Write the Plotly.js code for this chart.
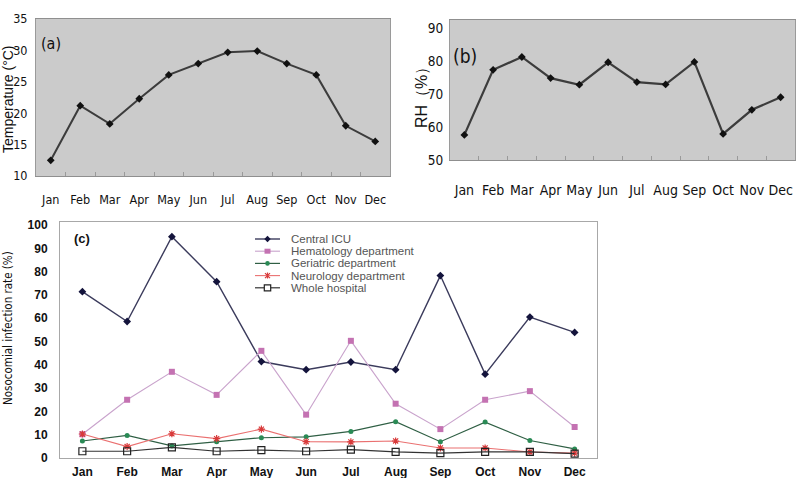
<!DOCTYPE html>
<html>
<head>
<meta charset="utf-8">
<script src="https://cdn.plot.ly/plotly-3.0.1.min.js"></script>
<style>html,body{margin:0;padding:0;background:#fff;}#chart{width:798px;height:478px;}</style>
</head>
<body>
<div id="chart"></div>
<script>
// ---------- data ----------
const months = ['Jan','Feb','Mar','Apr','May','Jun','Jul','Aug','Sep','Oct','Nov','Dec'];
const temperature = [12.5, 21.2, 18.3, 22.3, 26.1, 27.9, 29.7, 29.9, 27.9, 26.1, 18.0, 15.5];
const humidity = [57.6, 77.3, 81.2, 74.8, 72.8, 79.6, 73.6, 72.9, 79.7, 57.9, 65.2, 69.0];
const seriesNames = ['Central ICU','Hematology department','Geriatric department','Neurology department','Whole hospital'];
const centralICU = [71.4, 58.6, 95.0, 75.7, 41.4, 37.9, 41.2, 37.9, 78.3, 36.0, 60.5, 53.9];
const hematology = [10.2, 25.0, 37.0, 27.1, 46.0, 18.6, 50.3, 23.3, 12.4, 25.0, 28.7, 13.3];
const geriatric = [7.3, 9.7, 5.2, 7.0, 8.7, 9.1, 11.4, 15.6, 7.0, 15.4, 7.5, 3.9];
const neurology = [10.3, 4.9, 10.4, 8.3, 12.4, 7.0, 6.9, 7.3, 4.3, 4.3, 2.6, 2.1];
const wholeHospital = [2.9, 2.9, 4.6, 2.9, 3.4, 2.9, 3.6, 2.6, 2.1, 2.6, 2.6, 1.9];

// ---------- helpers ----------
const W = 798, H = 478;
const px = x => x / W;
const py = y => 1 - y / H;
const NARROW = '"Liberation Sans Narrow","Arial Narrow","DejaVu Sans Condensed",sans-serif';
const SANS = '"Liberation Sans",Arial,sans-serif';

const seriesValues = [centralICU, hematology, geriatric, neurology, wholeHospital];
const seriesStyle = [
  {line:'#3b3b5c', width:1.4, marker:'diamond', mcolor:'#14143c', msize:6},
  {line:'#c9a3cc', width:1.1, marker:'square', mcolor:'#c472b2', msize:6},
  {line:'#2f5f44', width:1.2, marker:'circle', mcolor:'#2a8a55', msize:5},
  {line:'#ea7070', width:1.1, marker:'asterisk', mcolor:'#d83a3a', msize:6},
  {line:'#333333', width:1.2, marker:'square-open', mcolor:'#222222', msize:7}
];

const traces = [];
traces.push({
  x: months, y: temperature, xaxis:'x', yaxis:'y', type:'scatter', mode:'lines+markers',
  line:{color:'#3c3c3c', width:2}, marker:{symbol:'diamond', size:6, color:'#111'},
  showlegend:false, hoverinfo:'skip'
});
traces.push({
  x: months, y: humidity, xaxis:'x2', yaxis:'y2', type:'scatter', mode:'lines+markers',
  line:{color:'#3c3c3c', width:2.2}, marker:{symbol:'diamond', size:6, color:'#111'},
  showlegend:false, hoverinfo:'skip'
});
seriesValues.forEach((vals, i) => {
  const s = seriesStyle[i];
  traces.push({
    x: months, y: vals, xaxis:'x3', yaxis:'y3', type:'scatter', mode:'lines+markers',
    name: seriesNames[i],
    line:{color:s.line, width:s.width},
    marker:{symbol:s.marker, size:s.msize, color:s.mcolor, line:{color:s.mcolor, width: (s.marker==='asterisk'||s.marker==='square-open')?1.2:0}},
    showlegend:false, hoverinfo:'skip'
  });
});

const shapes = [];
['x','x2'].forEach((ax, i) => {
  shapes.push({type:'rect', xref: ax + ' domain', yref: (i===0?'y':'y2') + ' domain',
    x0:0, x1:1, y0:0, y1:1, fillcolor:'#cbcbcb', line:{width:0}, layer:'below'});
});

const annotations = [];
function label(text, x, y, font, angle) {
  annotations.push({text:text, x:px(x), y:py(y), xref:'paper', yref:'paper', xanchor:'center', yanchor:'middle',
    showarrow:false, textangle: angle || 0, font:font});
}
label('(a)', 51, 43, {family:NARROW, size:16, color:'#111'});
label('(b)', 465, 56, {family:NARROW, size:19, color:'#111'});
label('(c)', 82, 238, {family:SANS, size:13, color:'#111', weight:'bold'});
label('Temperature (°C)', 8, 99, {family:SANS, size:14, color:'#111'}, -90);
label('RH（%）', 421, 94, {family:SANS, size:16, color:'#111'}, -90);
label('Nosocomial infection rate (%)', 8, 328, {family:NARROW, size:11.5, color:'#111'}, -90);

// custom legend for (c)
seriesNames.forEach((name, i) => {
  const s = seriesStyle[i];
  const yy = py(239 + i * 12.2);
  shapes.push({type:'line', xref:'paper', yref:'paper', x0:px(255), x1:px(280), y0:yy, y1:yy,
    line:{color:s.line, width:s.width}});
  const common = {xref:'paper', yref:'paper', xsizemode:'pixel', ysizemode:'pixel', xanchor:px(267.5), yanchor:yy};
  if (s.marker === 'diamond') {
    shapes.push(Object.assign({type:'path', path:'M0,3.2 L3.2,0 L0,-3.2 L-3.2,0 Z', fillcolor:s.mcolor, line:{width:0}}, common));
  } else if (s.marker === 'square') {
    shapes.push(Object.assign({type:'rect', x0:-3, x1:3, y0:-2.5, y1:2.5, fillcolor:s.mcolor, line:{width:0}}, common));
  } else if (s.marker === 'circle') {
    shapes.push(Object.assign({type:'circle', x0:-2.3, x1:2.3, y0:-2.3, y1:2.3, fillcolor:s.mcolor, line:{width:0}}, common));
  } else if (s.marker === 'asterisk') {
    shapes.push(Object.assign({type:'path', path:'M-2.5,-2.5 L2.5,2.5 M-2.5,2.5 L2.5,-2.5 M0,-3 L0,3', line:{color:s.mcolor, width:1.2}}, common));
  } else {
    shapes.push(Object.assign({type:'rect', x0:-3.2, x1:3.2, y0:-3, y1:3, fillcolor:'#fff', line:{color:s.mcolor, width:1.2}}, common));
  }
  annotations.push({text:name, x:px(289), y:yy, xref:'paper', yref:'paper', xanchor:'left', yanchor:'middle',
    showarrow:false, font:{family:SANS, size:11.5, color:'#555'}});
});

const catAxis = {type:'category', range:[-0.5, 11.5], showgrid:false, zeroline:false, fixedrange:true, tickangle:0};

const layout = {
  width:W, height:H, margin:{l:0, r:0, t:0, b:0},
  paper_bgcolor:'#ffffff', plot_bgcolor:'rgba(0,0,0,0)',
  showlegend:false,
  xaxis: Object.assign({}, catAxis, {domain:[px(36), px(390)], anchor:'y',
    showline:true, mirror:true, linecolor:'#8f8f8f', linewidth:1,
    ticks:'inside', tickson:'boundaries', ticklen:4, tickcolor:'#9a9a9a',
    ticklabelstandoff:12, tickfont:{family:NARROW, size:12.5, color:'#111'}}),
  yaxis: {domain:[py(176), py(19)], anchor:'x', range:[10, 35], dtick:5, tick0:10,
    showgrid:false, zeroline:false, showline:true, mirror:true, linecolor:'#9a9a9a',
    ticks:'', ticklabelstandoff:5, tickfont:{family:NARROW, size:12.5, color:'#111'}},
  xaxis2: Object.assign({}, catAxis, {domain:[px(450), px(795)], anchor:'y2',
    showline:true, mirror:true, linecolor:'#8f8f8f', linewidth:1,
    ticks:'inside', tickson:'boundaries', ticklen:4, tickcolor:'#9a9a9a',
    ticklabelstandoff:17, tickfont:{family:NARROW, size:14, color:'#111'}}),
  yaxis2: {domain:[py(160), py(20)], anchor:'x2', range:[50, 92.4], dtick:10, tick0:50,
    showgrid:false, zeroline:false, showline:true, mirror:true, linecolor:'#9a9a9a',
    ticks:'', ticklabelstandoff:3, tickfont:{family:NARROW, size:13.5, color:'#111'}},
  xaxis3: Object.assign({}, catAxis, {domain:[px(60), px(597)], anchor:'y3',
    showline:true, mirror:true, linecolor:'#a8a8a8', linewidth:1,
    ticks:'', ticklabelstandoff:3, tickfont:{family:SANS, size:12, color:'#111', weight:'bold'}}),
  yaxis3: {domain:[py(458), py(222)], anchor:'x3', range:[0, 101.3], dtick:10, tick0:0,
    showgrid:false, zeroline:false, showline:true, mirror:true, linecolor:'#a8a8a8',
    ticks:'', ticklabelstandoff:9, tickfont:{family:SANS, size:12, color:'#111', weight:'bold'}},
  shapes: shapes,
  annotations: annotations
};

Plotly.newPlot('chart', traces, layout, {staticPlot:true, displayModeBar:false});
</script>
</body>
</html>
